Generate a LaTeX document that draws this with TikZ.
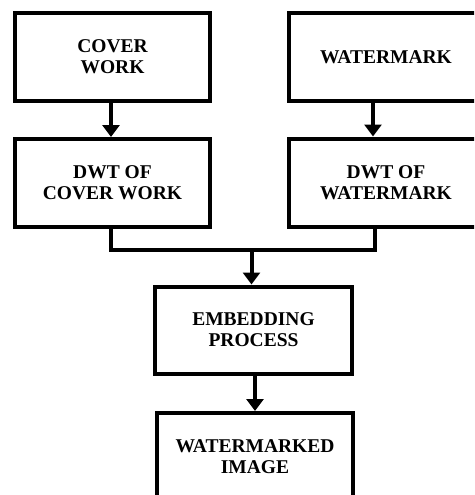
\documentclass[tikz,border=0pt]{standalone}
\usepackage{fontspec}
\setmainfont{Liberation Serif}
\usetikzlibrary{arrows.meta}
\begin{document}
\begin{tikzpicture}[x=1pt,y=-1pt,
  block/.style={draw=black, line width=4pt, fill=white, minimum width=195pt,
    minimum height=88pt, inner sep=0pt, align=center,
    font=\fontsize{19.5}{21}\selectfont\bfseries},
  flow/.style={line width=4pt, -{Triangle[width=17pt,length=12pt]}},
  link/.style={line width=4pt}]
\useasboundingbox (0,0) rectangle (474,495);
\clip (0,0) rectangle (474,495);
\fill[white] (0,0) rectangle (474,495);

% source blocks
\node[block] (cover) at (112.5,57) {COVER\\WORK};
\node[block] (wm) at (386,57) {WATERMARK};

% transform blocks
\node[block] (dwtc) at (112.5,183) {DWT OF\\COVER WORK};
\node[block] (dwtw) at (386,182.5) {DWT OF\\WATERMARK};

% embedding and result
\node[block, minimum width=197pt, minimum height=87pt] (embed) at (253.5,330) {EMBEDDING\\PROCESS};
\node[block, minimum width=196pt, minimum height=87pt] (out) at (255,456.5) {WATERMARKED\\IMAGE};

% junction points
\coordinate (jl) at (110.5,250);
\coordinate (jr) at (374.5,250);
\coordinate (jm) at (251.5,250);

% connectors
\draw[flow] (cover.south -| 111,0) -- (dwtc.north -| 111,0);
\draw[flow] (wm.south -| 373,0) -- (dwtw.north -| 373,0);
\draw[link] (dwtc.south -| jl) -- (jl) -- (jr) -- (dwtw.south -| jr);
\draw[flow] (jm) -- (embed.north -| jm);
\draw[flow] (embed.south -| 255,0) -- (out.north -| 255,0);
\end{tikzpicture}
\end{document}
